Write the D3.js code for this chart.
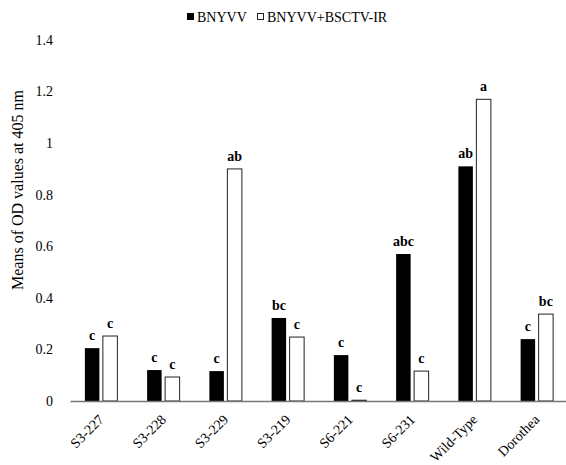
<!DOCTYPE html>
<html>
<head>
<meta charset="utf-8">
<title></title>
<script src="https://d3js.org/d3.v7.min.js"></script>
<style>
body{margin:0;background:#fff;}
</style>
</head>
<body>
<script>
var w=566, h=465;
var serif="'Liberation Serif', 'Times New Roman', Times, serif";
var categories=["S3-227","S3-228","S3-229","S3-219","S6-221","S6-231","Wild-Type","Dorothea"];
var seriesNames=["BNYVV","BNYVV+BSCTV-IR"];
var bnyvv=[0.205,0.12,0.116,0.322,0.178,0.57,0.91,0.24];
var bnyvvIR=[0.252,0.093,0.90,0.248,0.003,0.116,1.17,0.337];
var lettersBnyvv=["c","c","c","bc","c","abc","ab","c"];
var lettersIR=["c","c","ab","c","c","c","a","bc"];
var yTicks=[0,0.2,0.4,0.6,0.8,1,1.2,1.4];

var svg=d3.select("body").append("svg").attr("width",w).attr("height",h)
	.style("font-family",serif);

var x0=d3.scaleBand().domain(categories).range([70,568]);
var mid=x0.bandwidth()/2;
var x1=d3.scaleBand().domain(seriesNames).range([mid-16.25,mid+16.25]).paddingInner(0.194);
var y=d3.scaleLinear().domain([0,1.4]).range([401,40]);

// y tick labels only, no axis line
svg.append("g").selectAll("text").data(yTicks).enter().append("text")
	.attr("x",53).attr("y",function(d){return y(d);})
	.attr("dy","0.35em").attr("text-anchor","end")
	.style("font-family",serif).style("font-size","14px")
	.text(function(d){return d3.format("")(d);});

var rows=categories.map(function(c,i){
	return [
		{cat:c,s:seriesNames[0],v:bnyvv[i],l:lettersBnyvv[i]},
		{cat:c,s:seriesNames[1],v:bnyvvIR[i],l:lettersIR[i]}
	];
});
var groups=svg.selectAll(".grp").data(rows).enter().append("g")
	.attr("transform",function(d){return "translate("+x0(d[0].cat)+",0)";});

groups.selectAll("rect").data(function(d){return d;}).enter().append("rect")
	.attr("x",function(d){return x1(d.s);})
	.attr("y",function(d){return y(d.v);})
	.attr("width",x1.bandwidth())
	.attr("height",function(d){return y(0)-y(d.v);})
	.attr("fill",function(d){return d.s==seriesNames[0]?"#000":"#fff";})
	.attr("stroke",function(d){return d.s==seriesNames[0]?"none":"#222";})
	.attr("stroke-width",1);

groups.selectAll(".lab").data(function(d){return d;}).enter().append("text")
	.attr("x",function(d){return x1(d.s)+x1.bandwidth()/2;})
	.attr("y",function(d){return y(d.v)-8;})
	.attr("text-anchor","middle")
	.style("font-family",serif).style("font-size","14px").style("font-weight","bold")
	.text(function(d){return d.l;});

// x axis
var xAxis=svg.append("g").attr("transform","translate(0,401)")
	.call(d3.axisBottom(x0).tickSize(0).tickPadding(0));
xAxis.attr("font-family",null);
xAxis.select(".domain").attr("stroke","#777").attr("stroke-width",1.3);
xAxis.selectAll("text")
	.attr("transform","translate(0,16) rotate(-45)")
	.attr("text-anchor","end").attr("dy","0.35em").attr("y",0).attr("x",0)
	.style("font-family",serif).style("font-size","14px")
	.attr("fill","#000");

// y label
svg.append("text")
	.attr("transform","translate(23,190) rotate(-90)")
	.attr("text-anchor","middle")
	.style("font-family",serif).style("font-size","16px")
	.text("Means of OD values at 405 nm");

// legend
var leg=svg.append("g").attr("transform","translate(187,13)");
leg.append("rect").attr("x",0).attr("y",0).attr("width",7).attr("height",7).attr("fill","#000");
leg.append("text").attr("x",10).attr("y",9).style("font-family",serif).style("font-size","14px").text(seriesNames[0]);
leg.append("rect").attr("x",70.5).attr("y",0.5).attr("width",6).attr("height",6).attr("fill","#fff").attr("stroke","#222");
leg.append("text").attr("x",80).attr("y",9).style("font-family",serif).style("font-size","14px").text(seriesNames[1]);
</script>
</body>
</html>
